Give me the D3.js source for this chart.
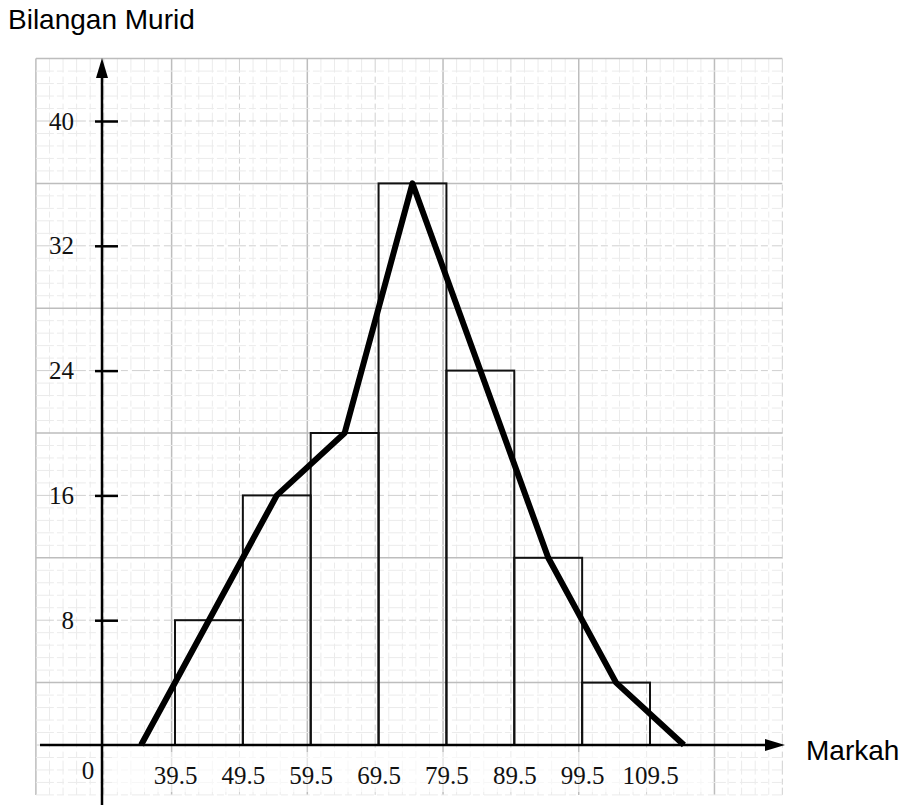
<!DOCTYPE html>
<html>
<head>
<meta charset="utf-8">
<title>Bilangan Murid</title>
<script src="https://cdn.jsdelivr.net/npm/d3@7"></script>
<style>
  html, body { margin: 0; padding: 0; background: #fff; }
  svg { display: block; }
  .lbl { font-family: "Liberation Sans", Arial, sans-serif; font-size: 28px; fill: #000; }
  .tick text { font-family: "Liberation Serif", "Times New Roman", serif; font-size: 25px; fill: #111; }
</style>
</head>
<body>
<div id="chart"></div>
<script>

// class boundaries (Markah) and number of students per class
var classEdges = [39.5, 49.5, 59.5, 69.5, 79.5, 89.5, 99.5, 109.5];
var frequencies = [8, 16, 20, 36, 24, 12, 4];

// frequency polygon: class midpoints, with an empty class at each end
var polyMarks = [34.5, 44.5, 54.5, 64.5, 74.5, 84.5, 94.5, 104.5, 114.5];
var polyFreq = [0, 8, 16, 20, 36, 24, 12, 4, 0];

var yTicks = [8, 16, 24, 32, 40];

var width = 908;
var height = 805;

var x = d3.scaleLinear().domain([39.5, 109.5]).range([175, 650]);
var y = d3.scaleLinear().domain([0, 40]).range([745, 121]);

var axisX = 102;       // where the vertical axis is drawn
var axisTop = 58;
var axisRight = 785;

var svg = d3.select("#chart")
	.append("svg")
	.attr("width", width)
	.attr("height", height);

// graph paper
var paper = svg.append("g").attr("class", "paper");

var gx0 = x(19), gx1 = x(129), gy0 = y(44), gy1 = y(-3.2);

d3.range(0, 56).forEach(function(k) {
	var v = 19 + 2 * k;
	var major = (v - 19) % 20 === 0, medium = (v - 19) % 10 === 0;
	paper.append("line")
		.attr("x1", x(v)).attr("x2", x(v))
		.attr("y1", gy0).attr("y2", gy1)
		.attr("stroke", major ? "#bdbdbd" : medium ? "#d0d0d0" : "#ebebeb")
		.attr("stroke-width", major ? 1.5 : 1)
		.attr("stroke-dasharray", major ? null : "14,4,6,3");
});

d3.range(-9, 51).forEach(function(k) {
	var v = 4 + 0.8 * k;
	var major = k % 10 === 0, medium = k % 5 === 0;
	paper.append("line")
		.attr("x1", gx0).attr("x2", gx1)
		.attr("y1", y(v)).attr("y2", y(v))
		.attr("stroke", major ? "#bdbdbd" : medium ? "#d0d0d0" : "#ebebeb")
		.attr("stroke-width", major ? 1.5 : 1)
		.attr("stroke-dasharray", major ? null : "18,3,7,4");
});

// lighter strip under the axis where the class boundaries are written
svg.append("rect")
	.attr("x", 112).attr("y", 752)
	.attr("width", 600).attr("height", 40)
	.attr("fill", "#fff").attr("opacity", 0.6);

// histogram bars
svg.append("g")
	.selectAll("rect")
	.data(frequencies)
	.enter()
	.append("rect")
	.attr("x", function(d, i) { return x(classEdges[i]); })
	.attr("y", function(d) { return y(d); })
	.attr("width", function(d, i) { return x(classEdges[i + 1]) - x(classEdges[i]); })
	.attr("height", function(d) { return y(0) - y(d); })
	.attr("fill", "none")
	.attr("stroke", "#111")
	.attr("stroke-width", 2);

// axes
var xAxis = svg.append("g")
	.attr("transform", "translate(0," + y(0) + ")")
	.call(d3.axisBottom(x).tickValues(classEdges).tickSize(0).tickPadding(19).tickFormat(d3.format(".1f")));
xAxis.select(".domain").remove();
xAxis.selectAll(".tick text").attr("dy", "0.8em");

svg.append("line")
	.attr("x1", 40).attr("x2", axisRight - 12)
	.attr("y1", y(0)).attr("y2", y(0))
	.attr("stroke", "#000").attr("stroke-width", 2.5);
svg.append("path")
	.attr("d", "M" + axisRight + "," + y(0) + "L" + (axisRight - 20) + "," + (y(0) - 6) + "L" + (axisRight - 20) + "," + (y(0) + 6) + "Z")
	.attr("fill", "#000");

var yAxis = svg.append("g")
	.attr("transform", "translate(" + axisX + ",0)")
	.call(d3.axisLeft(y).tickValues(yTicks).tickSize(0).tickPadding(28));
yAxis.select(".domain").remove();
yAxis.selectAll(".tick line")
	.attr("x1", -7).attr("x2", 16)
	.attr("stroke", "#000").attr("stroke-width", 2.5);

svg.append("line")
	.attr("x1", axisX).attr("x2", axisX)
	.attr("y1", axisTop + 12).attr("y2", height)
	.attr("stroke", "#000").attr("stroke-width", 2.5);
svg.append("path")
	.attr("d", "M" + axisX + "," + axisTop + "L" + (axisX - 6) + "," + (axisTop + 20) + "L" + (axisX + 6) + "," + (axisTop + 20) + "Z")
	.attr("fill", "#000");

svg.append("text")
	.attr("x", 88).attr("y", 779)
	.attr("text-anchor", "middle")
	.style("font-family", "'Liberation Serif', serif")
	.style("font-size", "25px")
	.attr("fill", "#111")
	.text("0");

// frequency polygon
var line = d3.line()
	.x(function(d) { return x(d); })
	.y(function(d, i) { return y(polyFreq[i]); });

svg.append("path")
	.datum(polyMarks)
	.attr("d", line)
	.attr("fill", "none")
	.attr("stroke", "#000")
	.attr("stroke-width", 6)
	.attr("stroke-linejoin", "round");

// labels
svg.append("text")
	.attr("class", "lbl")
	.attr("x", 8).attr("y", 29)
	.text("Bilangan Murid");

svg.append("text")
	.attr("class", "lbl")
	.attr("x", 806).attr("y", 760)
	.text("Markah");
</script>
</body>
</html>
